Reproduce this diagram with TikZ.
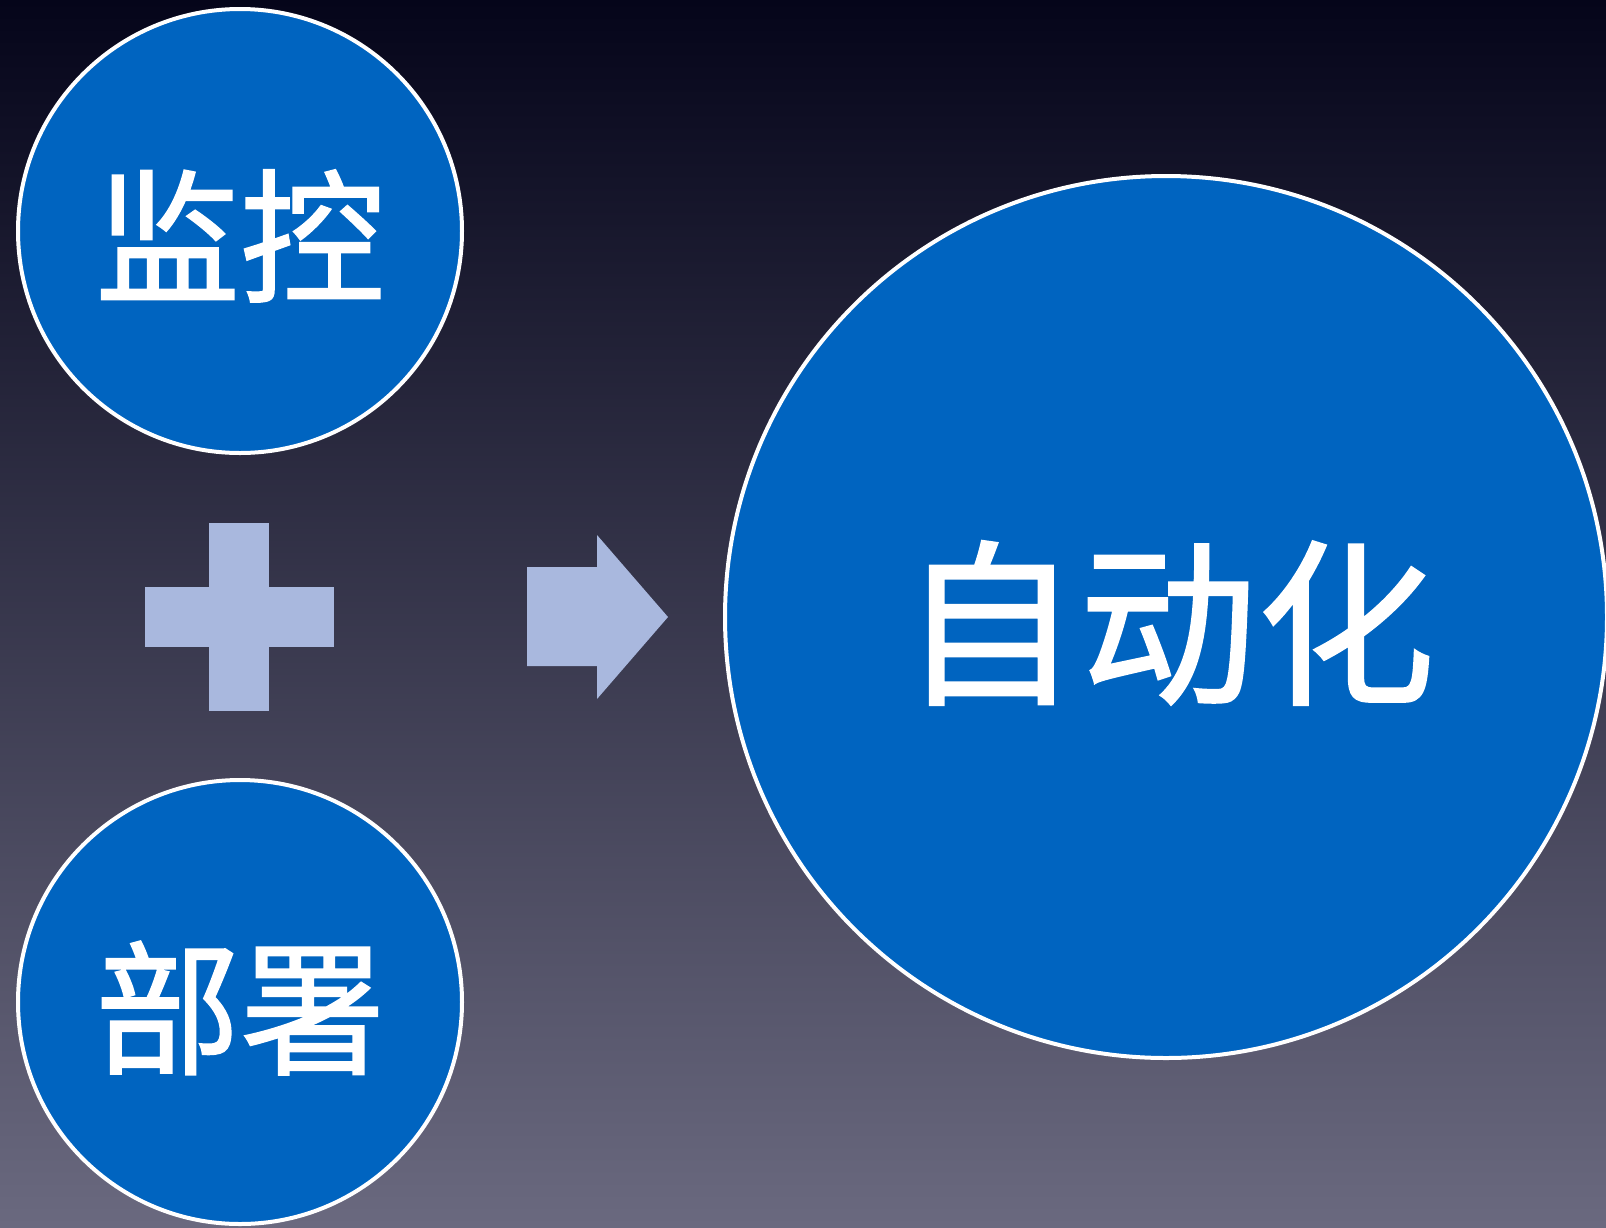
\documentclass[tikz,border=0pt]{standalone}
\usepackage{fontspec}
\newfontfamily\cjk[FakeBold=1.2]{Noto Sans CJK SC}
\definecolor{bgtop}{HTML}{05051A}
\definecolor{bgmid}{HTML}{36354F}
\definecolor{bgbot}{HTML}{6A697F}
\definecolor{circblue}{HTML}{0064C0}
\definecolor{shapefill}{HTML}{A9B8DE}
\tikzset{
  bubble/.style={circle, draw=white, line width=4pt, fill=circblue, inner sep=0pt, text=white},
  sym/.style={fill=shapefill, draw=none},
}
\begin{document}
\begin{tikzpicture}[x=1pt,y=-1pt]
\useasboundingbox (0,0) rectangle (1606,1227);
\shade[top color=bgtop, middle color=bgmid, bottom color=bgbot] (0,0) rectangle (1606,1227);
\node[bubble, minimum size=444pt] (mon) at (240,231) {};
\node[bubble, minimum size=444pt] (dep) at (240,1002) {};
\node[bubble, minimum size=882pt] (auto) at (1166,617) {};
\node[text=white, font=\cjk\fontsize{145}{150}\selectfont] (monl) at (240,236) {监控};
\node[text=white, font=\cjk\fontsize{145}{150}\selectfont] (depl) at (240,1008) {部署};
\node[text=white, font=\cjk\fontsize{178}{180}\selectfont] (autol) at (1168,623) {自动化};
% plus
\fill[sym] (209,523) rectangle (269,711);
\fill[sym] (145,587) rectangle (334,647);
% arrow
\fill[sym] (527,567) -- (597,567) -- (597,535) -- (668,617) -- (597,699) -- (597,666) -- (527,666) -- cycle;
\end{tikzpicture}
\end{document}
